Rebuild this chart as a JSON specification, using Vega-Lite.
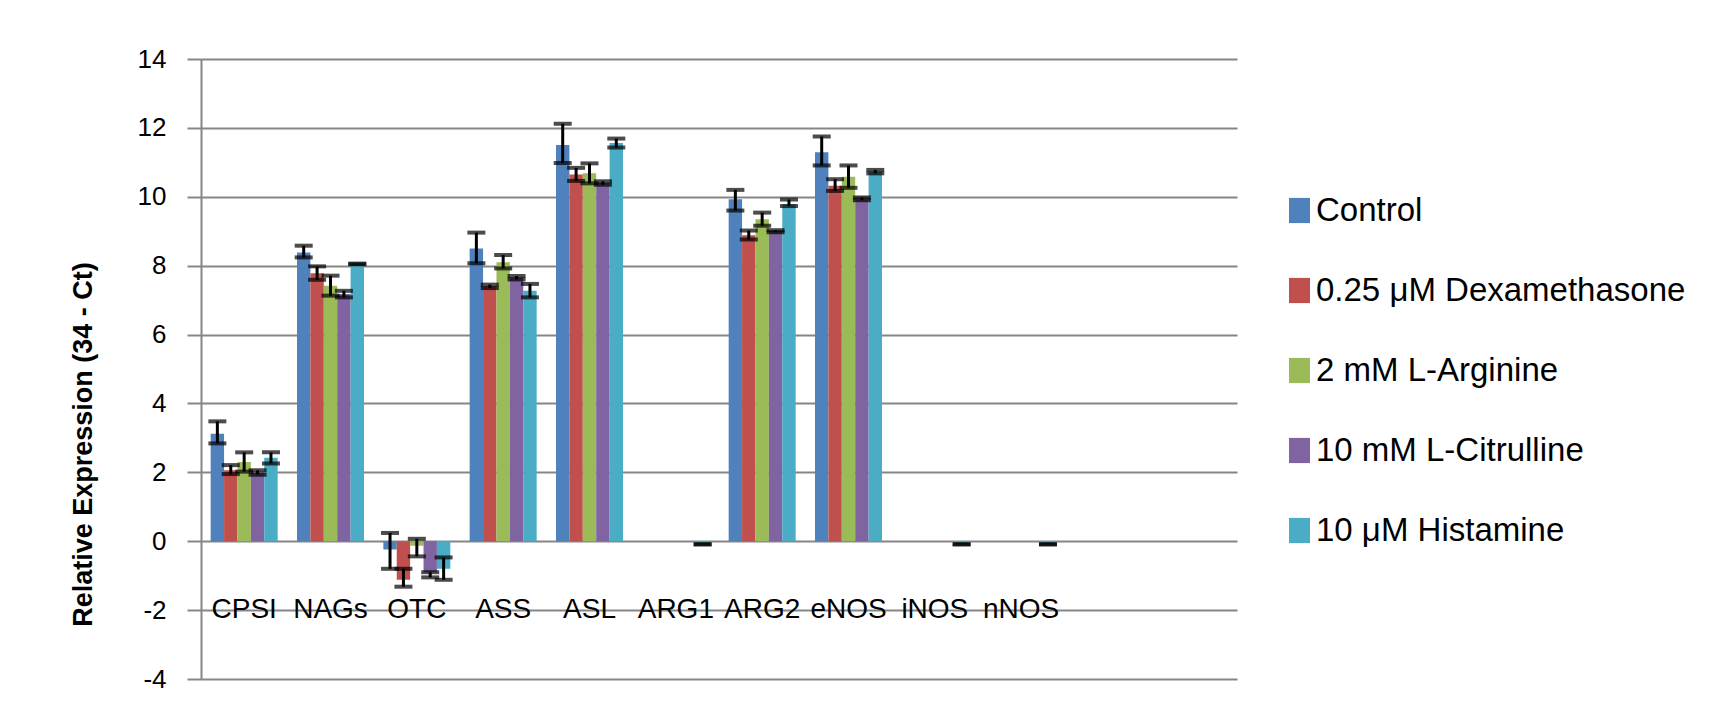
{
  "$schema": "https://vega.github.io/schema/vega-lite/v6.json",
  "autosize": {"type": "none"},
  "width": 1036,
  "height": 620,
  "padding": {"left": 201, "top": 59, "right": 479, "bottom": 39},
  "background": "white",
  "config": {
    "view": {"stroke": null},
    "font": "Liberation Sans"
  },
  "data": {
    "values": [
      {"gene": "CPSI", "treatment": "Control", "value": 3.12, "lo": 2.84, "hi": 3.48},
      {"gene": "CPSI", "treatment": "0.25 μM Dexamethasone", "value": 2.06, "lo": 1.95, "hi": 2.21},
      {"gene": "CPSI", "treatment": "2 mM L-Arginine", "value": 2.3, "lo": 2.02, "hi": 2.58},
      {"gene": "CPSI", "treatment": "10 mM L-Citrulline", "value": 2.0, "lo": 1.93, "hi": 2.06},
      {"gene": "CPSI", "treatment": "10 μM Histamine", "value": 2.42, "lo": 2.26, "hi": 2.58},
      {"gene": "NAGs", "treatment": "Control", "value": 8.38, "lo": 8.24, "hi": 8.58},
      {"gene": "NAGs", "treatment": "0.25 μM Dexamethasone", "value": 7.78, "lo": 7.59, "hi": 7.98},
      {"gene": "NAGs", "treatment": "2 mM L-Arginine", "value": 7.42, "lo": 7.13, "hi": 7.71},
      {"gene": "NAGs", "treatment": "10 mM L-Citrulline", "value": 7.18, "lo": 7.08, "hi": 7.27},
      {"gene": "NAGs", "treatment": "10 μM Histamine", "value": 8.05, "lo": 8.04, "hi": 8.06},
      {"gene": "OTC", "treatment": "Control", "value": -0.24, "lo": -0.8, "hi": 0.24},
      {"gene": "OTC", "treatment": "0.25 μM Dexamethasone", "value": -1.12, "lo": -1.32, "hi": -0.8},
      {"gene": "OTC", "treatment": "2 mM L-Arginine", "value": -0.13, "lo": -0.44, "hi": 0.07},
      {"gene": "OTC", "treatment": "10 mM L-Citrulline", "value": -0.9, "lo": -1.05, "hi": -0.9},
      {"gene": "OTC", "treatment": "10 μM Histamine", "value": -0.8, "lo": -1.12, "hi": -0.47},
      {"gene": "ASS", "treatment": "Control", "value": 8.5, "lo": 8.07, "hi": 8.96},
      {"gene": "ASS", "treatment": "0.25 μM Dexamethasone", "value": 7.4, "lo": 7.35, "hi": 7.45},
      {"gene": "ASS", "treatment": "2 mM L-Arginine", "value": 8.1, "lo": 7.92, "hi": 8.31},
      {"gene": "ASS", "treatment": "10 mM L-Citrulline", "value": 7.65, "lo": 7.6, "hi": 7.7},
      {"gene": "ASS", "treatment": "10 μM Histamine", "value": 7.27, "lo": 7.08, "hi": 7.47},
      {"gene": "ASL", "treatment": "Control", "value": 11.5, "lo": 10.98, "hi": 12.12},
      {"gene": "ASL", "treatment": "0.25 μM Dexamethasone", "value": 10.65, "lo": 10.46, "hi": 10.84},
      {"gene": "ASL", "treatment": "2 mM L-Arginine", "value": 10.68, "lo": 10.39, "hi": 10.97},
      {"gene": "ASL", "treatment": "10 mM L-Citrulline", "value": 10.4, "lo": 10.35, "hi": 10.45},
      {"gene": "ASL", "treatment": "10 μM Histamine", "value": 11.56, "lo": 11.43, "hi": 11.69},
      {"gene": "ARG1", "treatment": "10 μM Histamine", "value": -0.09, "lo": -0.09, "hi": -0.09},
      {"gene": "ARG2", "treatment": "Control", "value": 9.93, "lo": 9.6, "hi": 10.2},
      {"gene": "ARG2", "treatment": "0.25 μM Dexamethasone", "value": 8.88, "lo": 8.76, "hi": 9.02},
      {"gene": "ARG2", "treatment": "2 mM L-Arginine", "value": 9.35, "lo": 9.16, "hi": 9.54},
      {"gene": "ARG2", "treatment": "10 mM L-Citrulline", "value": 9.0, "lo": 8.97, "hi": 9.03},
      {"gene": "ARG2", "treatment": "10 μM Histamine", "value": 9.78, "lo": 9.73, "hi": 9.92},
      {"gene": "eNOS", "treatment": "Control", "value": 11.29, "lo": 10.91, "hi": 11.75},
      {"gene": "eNOS", "treatment": "0.25 μM Dexamethasone", "value": 10.32, "lo": 10.17, "hi": 10.51},
      {"gene": "eNOS", "treatment": "2 mM L-Arginine", "value": 10.58, "lo": 10.26, "hi": 10.91},
      {"gene": "eNOS", "treatment": "10 mM L-Citrulline", "value": 9.92, "lo": 9.9, "hi": 9.98},
      {"gene": "eNOS", "treatment": "10 μM Histamine", "value": 10.72, "lo": 10.68, "hi": 10.78},
      {"gene": "iNOS", "treatment": "10 μM Histamine", "value": -0.09, "lo": -0.09, "hi": -0.09},
      {"gene": "nNOS", "treatment": "10 μM Histamine", "value": -0.09, "lo": -0.09, "hi": -0.09}
    ]
  },
  "encoding": {
    "x": {
      "field": "gene",
      "type": "nominal",
      "sort": null,
      "scale": {
        "domain": ["CPSI", "NAGs", "OTC", "ASS", "ASL", "ARG1", "ARG2", "eNOS", "iNOS", "nNOS", " ", "  "],
        "paddingInner": 0.224,
        "paddingOuter": 0.112
      },
      "axis": {
        "title": null,
        "domain": false,
        "ticks": false,
        "grid": false,
        "labelAngle": 0,
        "labelFont": "Liberation Sans",
        "labelFontSize": 28,
        "labelColor": "#000000",
        "labelPadding": 2,
        "offset": -86
      }
    },
    "xOffset": {
      "field": "treatment",
      "type": "nominal",
      "scale": {
        "domain": ["Control", "0.25 μM Dexamethasone", "2 mM L-Arginine", "10 mM L-Citrulline", "10 μM Histamine"],
        "paddingInner": 0,
        "paddingOuter": 0
      }
    }
  },
  "layer": [
    {
      "mark": {"type": "bar"},
      "encoding": {
        "y": {
          "field": "value",
          "type": "quantitative",
          "scale": {"domain": [-4, 14], "nice": false, "zero": true},
          "axis": {
            "values": [-4, -2, 0, 2, 4, 6, 8, 10, 12, 14],
            "labelExpr": "datum.value + ''",
            "title": "Relative Expression (34 - Ct)",
            "titleFont": "Liberation Sans",
            "titleFontSize": 27,
            "titleFontWeight": "bold",
            "titleColor": "#000000",
            "titleAngle": -90,
            "titleX": -118,
            "titleY": 385,
            "titleAlign": "center",
            "titleBaseline": "middle",
            "labelFont": "Liberation Sans",
            "labelFontSize": 26,
            "labelColor": "#000000",
            "labelPadding": 21,
            "tickSize": 14,
            "tickColor": "#868686",
            "tickWidth": 2,
            "domainColor": "#868686",
            "domainWidth": 2,
            "gridColor": "#868686",
            "gridWidth": 2,
            "gridOpacity": 1
          }
        },
        "color": {
          "field": "treatment",
          "type": "nominal",
          "scale": {
            "domain": ["Control", "0.25 μM Dexamethasone", "2 mM L-Arginine", "10 mM L-Citrulline", "10 μM Histamine"],
            "range": ["#4F81BD", "#C0504D", "#9BBB59", "#8064A2", "#4BACC6"]
          },
          "legend": {
            "title": null,
            "orient": "none",
            "legendX": 1082,
            "legendY": 135,
            "padding": 0,
            "symbolType": "M-1,-1.2H1V1.2H-1Z",
            "symbolSize": 441,
            "symbolStrokeWidth": 0,
            "labelFont": "Liberation Sans",
            "labelFontSize": 33,
            "labelColor": "#000000",
            "labelOffset": 0,
            "rowPadding": 46,
            "labelLimit": 500
          }
        }
      }
    },
    {
      "mark": {"type": "rule", "color": "#000000", "strokeWidth": 3},
      "encoding": {
        "y": {"field": "lo", "type": "quantitative"},
        "y2": {"field": "hi"}
      }
    },
    {
      "mark": {"type": "tick", "color": "#000000", "thickness": 4, "size": 18, "orient": "horizontal"},
      "encoding": {
        "y": {"field": "lo", "type": "quantitative"}
      }
    },
    {
      "mark": {"type": "tick", "color": "#000000", "thickness": 4, "size": 18, "orient": "horizontal"},
      "encoding": {
        "y": {"field": "hi", "type": "quantitative"}
      }
    }
  ]
}
